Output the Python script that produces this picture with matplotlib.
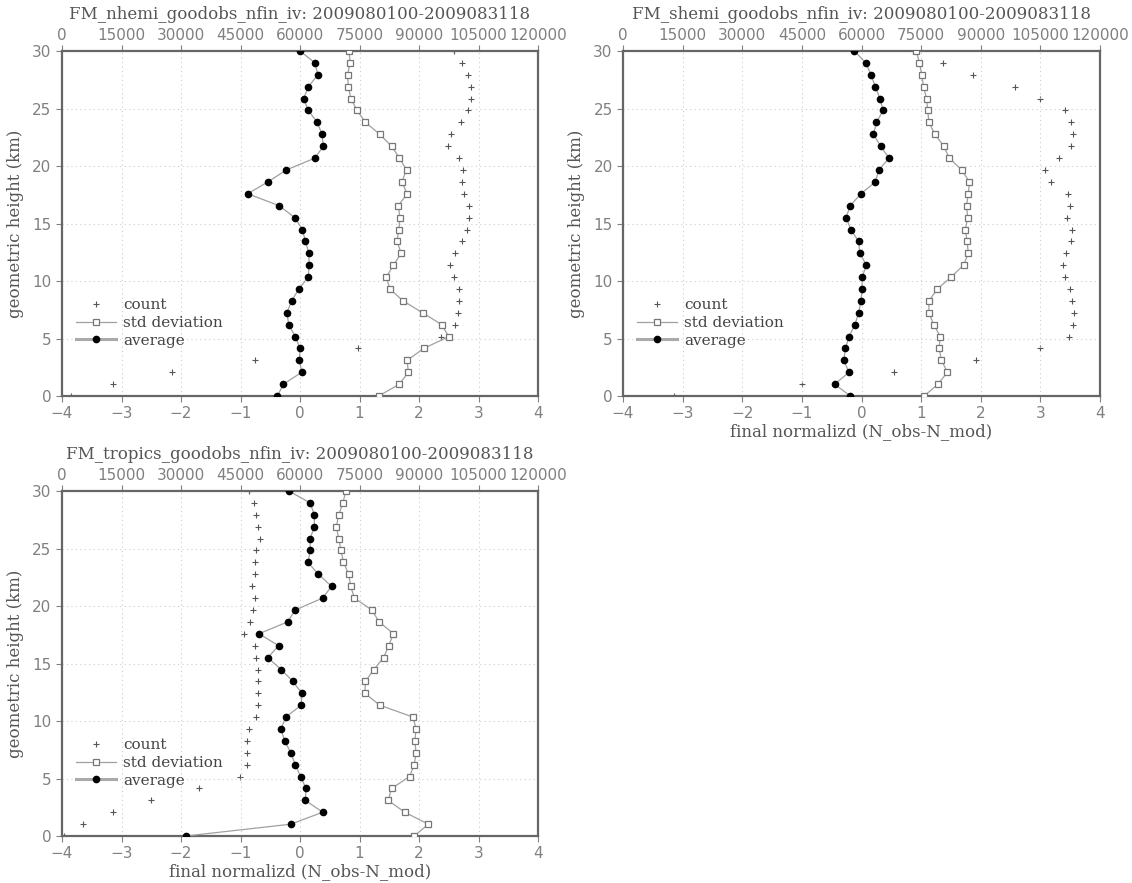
import matplotlib
matplotlib.use("Agg")
import matplotlib.pyplot as plt
from matplotlib.lines import Line2D

# model levels (km), 30 levels from 0 to 30
heights = [0.0, 1.03, 2.07, 3.10, 4.14, 5.17, 6.21, 7.24, 8.28, 9.31,
           10.34, 11.38, 12.41, 13.45, 14.48, 15.52, 16.55, 17.59, 18.62, 19.66,
           20.69, 21.72, 22.76, 23.79, 24.83, 25.86, 26.90, 27.93, 28.97, 30.0]

titles = ["FM_nhemi_goodobs_nfin_iv: 2009080100-2009083118",
          "FM_shemi_goodobs_nfin_iv: 2009080100-2009083118",
          "FM_tropics_goodobs_nfin_iv: 2009080100-2009083118"]

nhemi_avg = [-0.38, -0.28, 0.03, -0.01, 0.0, -0.08, -0.19, -0.22, -0.14, -0.02,
             0.14, 0.15, 0.15, 0.09, 0.04, -0.09, -0.35, -0.88, -0.54, -0.23,
             0.25, 0.39, 0.37, 0.29, 0.14, 0.06, 0.14, 0.30, 0.25, 0.0]
nhemi_std = [1.32, 1.67, 1.82, 1.80, 2.08, 2.50, 2.38, 2.06, 1.73, 1.51,
             1.45, 1.57, 1.70, 1.63, 1.66, 1.68, 1.65, 1.80, 1.71, 1.79,
             1.67, 1.54, 1.34, 1.10, 0.96, 0.855, 0.81, 0.80, 0.84, 0.825]
nhemi_cnt = [2250, 12970, 27760, 48620, 74650, 95420, 99140, 99770, 100050, 99960,
             98780, 97780, 98960, 100950, 102100, 102600, 102600, 101300, 100900, 101100,
             100100, 97400, 97960, 100700, 102400, 103100, 103000, 102400, 100950, 98800]

shemi_avg = [-0.19, -0.45, -0.21, -0.30, -0.27, -0.21, -0.11, -0.05, -0.01, 0.01,
             0.01, 0.08, -0.03, -0.05, -0.18, -0.26, -0.19, -0.01, 0.23, 0.29,
             0.46, 0.32, 0.20, 0.25, 0.36, 0.31, 0.23, 0.16, 0.07, -0.12]
shemi_std = [1.05, 1.28, 1.44, 1.34, 1.30, 1.32, 1.21, 1.13, 1.13, 1.27,
             1.50, 1.71, 1.79, 1.77, 1.74, 1.78, 1.76, 1.79, 1.81, 1.68,
             1.47, 1.38, 1.23, 1.13, 1.11, 1.09, 1.04, 1.01, 0.97, 0.92]
shemi_cnt = [12920, 45060, 68190, 88910, 104920, 112230, 113240, 113340, 113060, 112320,
             111120, 110560, 111390, 112690, 112870, 111580, 112400, 111950, 107700, 106030,
             109640, 112780, 113150, 112780, 111300, 105010, 98720, 87990, 80490, 73000]

tropics_avg = [-1.92, -0.155, 0.38, 0.09, 0.10, 0.01, -0.08, -0.155, -0.26, -0.32,
               -0.24, 0.02, 0.03, -0.12, -0.32, -0.54, -0.36, -0.69, -0.21, -0.08,
               0.38, 0.53, 0.31, 0.135, 0.17, 0.17, 0.24, 0.24, 0.17, -0.185]
tropics_std = [1.92, 2.155, 1.76, 1.48, 1.54, 1.84, 1.92, 1.95, 1.93, 1.95,
               1.90, 1.34, 1.09, 1.10, 1.24, 1.405, 1.49, 1.57, 1.33, 1.205,
               0.915, 0.85, 0.82, 0.73, 0.69, 0.65, 0.61, 0.65, 0.72, 0.77]
tropics_cnt = [500, 5260, 12790, 22400, 34650, 44800, 46620, 46620, 46620, 47170,
               48800, 49340, 49340, 49340, 49340, 48890, 48710, 45990, 47440, 48070,
               48710, 47980, 48710, 48620, 48890, 49800, 49520, 48980, 48340, 47200]

xlabel = "final normalizd (N_obs-N_mod)"
ylabel = "geometric height (km)"

serif = "DejaVu Serif"
tick_col = "#808080"
txt_col = "#555555"
line_col = "#a0a0a0"


def makePanel(fig, rect, title, avg, std, cnt, show_xlabel):
    ax = fig.add_axes(rect)
    ax.set_xlim(-4, 4)
    ax.set_ylim(0, 30)
    ax.set_xticks(range(-4, 5))
    ax.set_yticks(range(0, 31, 5))
    ax.grid(True, color="#cccccc", linestyle=(0, (1, 3)), linewidth=0.8)
    for s in ax.spines.values():
        s.set_color("#666666")
        s.set_linewidth(1.6)
    ax.tick_params(colors=tick_col, labelsize=11, length=4, width=0.8)
    for lab in ax.get_xticklabels() + ax.get_yticklabels():
        lab.set_color(tick_col)

    ax.plot(std, heights, color=line_col, lw=0.9, marker="s", ms=4.2,
            mfc="white", mec="#777777", mew=0.9, zorder=3)
    ax.plot(avg, heights, color=line_col, lw=0.9, marker="o", ms=4.5,
            mfc="black", mec="black", zorder=4)

    ax2 = ax.twiny()
    ax2.set_xlim(0, 120000)
    ax2.set_xticks(range(0, 120001, 15000))
    ax2.tick_params(colors=tick_col, labelsize=11, length=4, width=0.8, pad=2)
    for s in ax2.spines.values():
        s.set_visible(False)
    ax2.plot(cnt, heights, linestyle="none", marker="+", ms=4.5, mew=0.8,
             color="#555555", zorder=5)

    ax.set_title(title, family=serif, fontsize=12, color=txt_col, pad=23)
    ax.set_ylabel(ylabel, family=serif, fontsize=12, color=txt_col, labelpad=6)
    if show_xlabel:
        ax.set_xlabel(xlabel, family=serif, fontsize=12, color=txt_col, labelpad=1)

    handles = [
        Line2D([], [], linestyle="none", marker="+", ms=4.5, mew=0.8, color="#555555"),
        Line2D([], [], color=line_col, lw=0.9, marker="s", ms=4.2,
               mfc="white", mec="#777777", mew=0.9),
        Line2D([], [], color="#aaaaaa", lw=2.2, marker="o", ms=4.5,
               mfc="black", mec="black"),
    ]
    leg = ax.legend(handles, ["count", "std deviation", "average"],
                    loc="lower left", bbox_to_anchor=(0.0, 0.10),
                    frameon=False, handlelength=2.6, labelspacing=0.25,
                    handletextpad=0.5, prop={"family": serif, "size": 11})
    for t in leg.get_texts():
        t.set_color("#444444")
    ax.set_zorder(ax2.get_zorder() + 1)
    ax.patch.set_visible(False)
    return ax


fig = plt.figure(figsize=(11.32, 8.83), dpi=100)
fig.patch.set_facecolor("white")

makePanel(fig, [0.0548, 0.5515, 0.4205, 0.3907], titles[0],
          nhemi_avg, nhemi_std, nhemi_cnt, False)
makePanel(fig, [0.5504, 0.5515, 0.4214, 0.3907], titles[1],
          shemi_avg, shemi_std, shemi_cnt, True)
makePanel(fig, [0.0548, 0.0532, 0.4205, 0.3907], titles[2],
          tropics_avg, tropics_std, tropics_cnt, True)

plt.savefig("out.png", dpi=100)
